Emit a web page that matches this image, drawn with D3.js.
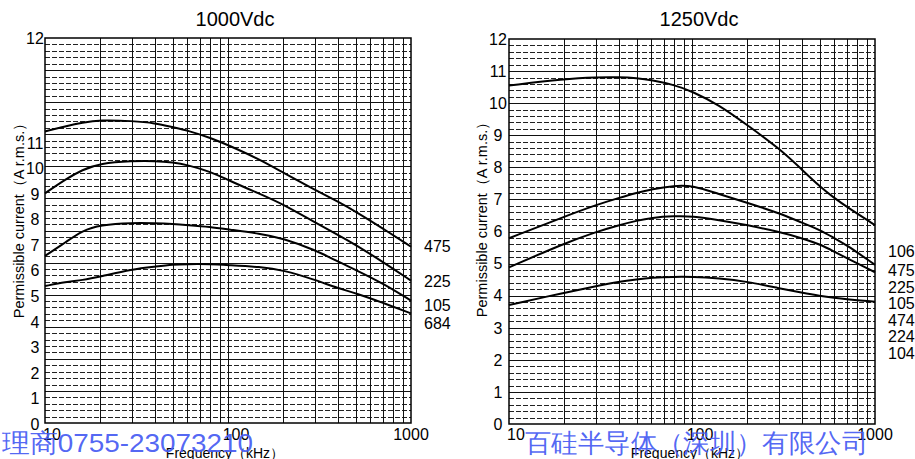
<!DOCTYPE html>
<html>
<head>
<meta charset="utf-8">
<script src="https://cdn.jsdelivr.net/npm/d3@7"></script>
<style>
  html, body { margin: 0; padding: 0; background: #fff; }
  svg { display: block; }
  text { font-family: "Liberation Sans", Arial, sans-serif; fill: #000; }
</style>
</head>
<body>
<svg id="chart" width="915" height="459"></svg>
<script>
// ---------- DATA ----------
const titles = ["1000Vdc", "1250Vdc"];
const yTicks = [0,1,2,3,4,5,6,7,8,9,10,11,12];
const xTicks = [10, 100, 1000];
const xTickLabels = ["10", "100", "1000"];
const yTitle = "Permissible current（A r.m.s.）";
const xTitle = "Frequency（kHz）";

// 1000Vdc
const freqL = [10, 13, 16, 20, 30, 40, 50, 60, 80, 100, 150, 200, 300, 400, 500, 700, 1000];
const l475 = [11.11, 11.16, 11.195, 11.22, 11.21, 11.19, 11.15, 11.12, 11.05, 10.92, 10.35, 9.84, 9.16, 8.70, 8.31, 7.66, 6.94];
const l225 = [9.03, 9.59, 9.95, 10.21, 10.30, 10.30, 10.24, 10.14, 9.88, 9.55, 9.00, 8.60, 7.88, 7.40, 7.01, 6.35, 5.61];
const l105 = [6.58, 7.12, 7.57, 7.79, 7.88, 7.86, 7.83, 7.79, 7.72, 7.62, 7.45, 7.27, 6.81, 6.35, 6.03, 5.51, 4.83];
const l684 = [5.40, 5.56, 5.63, 5.77, 6.06, 6.16, 6.24, 6.26, 6.26, 6.22, 6.15, 6.03, 5.64, 5.31, 5.12, 4.75, 4.33];
const labelsL = ["475", "225", "105", "684"];

// 1250Vdc
const freqR = [10, 20, 30, 40, 50, 60, 80, 100, 140, 200, 300, 400, 500, 600, 700, 1000];
const r106 = [10.55, 10.75, 10.81, 10.81, 10.78, 10.72, 10.57, 10.37, 9.95, 9.32, 8.59, 7.92, 7.40, 7.04, 6.77, 6.20];
const r475 = [5.79, 6.46, 6.83, 7.05, 7.21, 7.32, 7.43, 7.44, 7.17, 6.90, 6.57, 6.27, 6.05, 5.79, 5.58, 4.96];
const r225 = [4.88, 5.63, 5.99, 6.20, 6.34, 6.43, 6.48, 6.48, 6.36, 6.20, 5.99, 5.79, 5.60, 5.37, 5.17, 4.73];
const r105 = [3.71, 4.09, 4.30, 4.44, 4.51, 4.56, 4.59, 4.59, 4.54, 4.44, 4.23, 4.09, 3.99, 3.93, 3.89, 3.81];
const labelsR = ["106", "475", "225", "105", "474", "224", "104"];

const watermarkL = "理商0755-23073210";
const watermarkR = "百硅半导体（深圳）有限公司";

// ---------- DRAW ----------
const svg = d3.select("#chart");

function drawPanel(cfg) {
  const g = svg.append("g");
  const x = d3.scaleLog().domain([10, 1000]).range([cfg.x0, cfg.x1]);
  const y = d3.scaleLinear().domain(cfg.yDomain).range(cfg.yRange);
  const grid = d3.scaleLinear().domain([0, 12]).range([cfg.gBottom, cfg.gTop]);

  // horizontal grid: minor dashed, major solid
  const minor = d3.range(0, 60).map(i => i / 5).filter(v => Math.round(v * 5) % 5 !== 0);
  g.append("g").selectAll("line").data(minor).join("line")
    .attr("x1", cfg.x0).attr("x2", cfg.x1)
    .attr("y1", d => Math.round(grid(d)) + 0.5).attr("y2", d => Math.round(grid(d)) + 0.5)
    .attr("stroke", "#222").attr("stroke-width", 1).attr("stroke-dasharray", "5,2");
  g.append("g").selectAll("line").data(d3.range(1, 12)).join("line")
    .attr("x1", cfg.x0).attr("x2", cfg.x1)
    .attr("y1", d => Math.round(grid(d)) + 0.5).attr("y2", d => Math.round(grid(d)) + 0.5)
    .attr("stroke", "#111").attr("stroke-width", 1);

  // vertical grid at log ticks
  const vt = x.ticks().filter(v => v > 10 && v < 1000);
  g.append("g").selectAll("line").data(vt).join("line")
    .attr("x1", d => Math.round(x(d)) + 0.5).attr("x2", d => Math.round(x(d)) + 0.5)
    .attr("y1", cfg.gTop).attr("y2", cfg.gBottom)
    .attr("stroke", "#111").attr("stroke-width", 1);

  // frame
  g.append("rect").attr("x", cfg.x0).attr("y", cfg.gTop)
    .attr("width", cfg.x1 - cfg.x0).attr("height", cfg.gBottom - cfg.gTop)
    .attr("fill", "none").attr("stroke", "#000").attr("stroke-width", 1.5);

  // curves
  const line = d3.line().x(d => x(d[0])).y(d => y(d[1])).curve(d3.curveBasis);
  cfg.series.forEach(s => {
    g.append("path").datum(cfg.freq.map((f, i) => [f, s[i]]))
      .attr("d", line).attr("fill", "none").attr("stroke", "#000").attr("stroke-width", 2);
  });

  // y tick labels
  g.append("g").selectAll("text").data(yTicks).join("text")
    .attr("x", cfg.yLabelX).attr("y", d => y(d)).attr("dy", "0.36em")
    .attr("text-anchor", "middle").attr("font-size", 16).text(d => d);

  // x tick labels
  g.append("g").selectAll("text").data(xTicks).join("text")
    .attr("x", (d, i) => x(d) + (i === 0 ? -2 : i === 1 ? 8 : 0))
    .attr("y", 440)
    .attr("text-anchor", (d, i) => i === 0 ? "start" : "middle")
    .attr("font-size", 16).text((d, i) => xTickLabels[i]);

  // title
  g.append("text").attr("x", cfg.titleX).attr("y", 26).attr("text-anchor", "middle")
    .attr("font-size", 20).text(cfg.title);

  // axis titles
  g.append("text").attr("transform", `translate(${cfg.yTitleX},${cfg.yTitleY}) rotate(-90)`)
    .attr("text-anchor", "middle").attr("font-size", 14.5).text(yTitle);
  g.append("text").attr("x", cfg.xTitleX).attr("y", 458).attr("text-anchor", "middle")
    .attr("font-size", 14).text(xTitle);

  // series labels
  g.append("g").selectAll("text").data(cfg.labels).join("text")
    .attr("x", cfg.labelX).attr("y", (d, i) => cfg.labelY[i]).attr("dy", "0.36em")
    .attr("font-size", 16).text(d => d);
}

drawPanel({
  x0: 45, x1: 411, gTop: 38, gBottom: 423,
  yDomain: [0, 11, 12], yRange: [424, 143, 38],
  freq: freqL, series: [l475, l225, l105, l684], labels: labelsL,
  labelX: 424, labelY: [246.5, 281, 305, 323],
  yLabelX: 35, title: titles[0], titleX: 235,
  yTitleX: 24, yTitleY: 217, xTitleX: 225
});

drawPanel({
  x0: 509, x1: 875, gTop: 39, gBottom: 424,
  yDomain: [0, 12], yRange: [424, 39],
  freq: freqR, series: [r106, r475, r225, r105], labels: labelsR,
  labelX: 888, labelY: [251, 270, 287, 303.5, 320, 336.5, 353],
  yLabelX: 498, title: titles[1], titleX: 699,
  yTitleX: 487, yTitleY: 216, xTitleX: 690
});

// watermark text overlay
svg.append("text").attr("x", 2).attr("y", 452)
  .attr("font-family", "'Noto Sans CJK SC', sans-serif").attr("font-size", 26)
  .attr("textLength", 251).attr("lengthAdjust", "spacingAndGlyphs")
  .style("fill", "#4a5ef3").attr("fill-opacity", 0.95).text(watermarkL);
svg.append("text").attr("x", 525).attr("y", 452)
  .attr("font-family", "'Noto Sans CJK SC', sans-serif").attr("font-size", 26)
  .attr("textLength", 343).attr("lengthAdjust", "spacingAndGlyphs")
  .style("fill", "#4a5ef3").attr("fill-opacity", 0.95).text(watermarkR);
</script>
</body>
</html>
